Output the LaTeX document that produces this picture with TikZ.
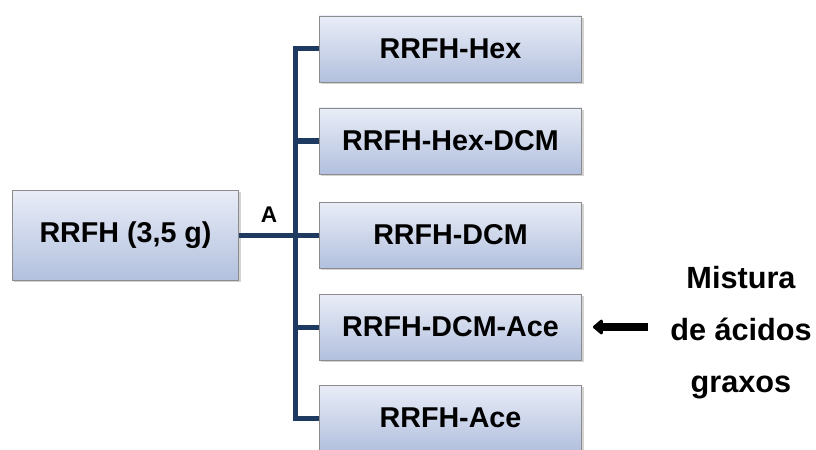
\documentclass[tikz,border=0pt]{standalone}
\usepackage{fontspec}
\setmainfont{Liberation Sans}
\usetikzlibrary{arrows.meta,shadows}

\definecolor{boxtop}{HTML}{E9EDF7}
\definecolor{boxbottom}{HTML}{B2C0DE}
\definecolor{boxline}{HTML}{8C8C8C}
\definecolor{linkblue}{HTML}{1F3A60}

\tikzset{
    box/.style={draw=boxline, line width=0.6pt, top color=boxtop, bottom color=boxbottom,
        minimum height=49.5pt, font=\fontsize{21.5}{24}\selectfont\bfseries,
        drop shadow={shadow xshift=1.5pt, shadow yshift=-1.5pt, opacity=0.35}},
    link/.style={color=linkblue, line width=3.75pt},
}

\begin{document}
\begin{tikzpicture}[x=0.75pt, y=-0.75pt]
            \useasboundingbox (0,0) rectangle (816,449);

            \node[box, minimum width=170pt, minimum height=67.5pt] (root) at (125.5,235) {RRFH (3,5 g)};

            \node[box, minimum width=197pt] (hex)    at (450.5,49)  {RRFH-Hex};
            \node[box, minimum width=197pt] (hexdcm) at (450.5,141) {RRFH-Hex-DCM};
            \node[box, minimum width=197pt] (dcm)    at (450.5,235) {RRFH-DCM};
            \node[box, minimum width=197pt] (dcmace) at (450.5,327) {RRFH-DCM-Ace};
            \node[box, minimum width=197pt] (ace)    at (450.5,418) {RRFH-Ace};

            \draw[link] (root.east) -- (dcm.west);
            \draw[link] (hex.west) -- ++(-23,0) |- (ace.west);
            \draw[link] (hexdcm.west) -- ++(-23,0);
            \draw[link] (dcmace.west) -- ++(-23,0);

            \node[font=\fontsize{17}{20}\selectfont\bfseries] (lblA) at (269,215) {A};

            \node[align=center, font=\fontsize{23}{39}\selectfont\bfseries] (mix) at (741,333)
                {Mistura\\de ácidos\\graxos};
            \draw[line width=6pt, -{Triangle[length=8pt, width=13pt, round]}, shorten <=13pt, shorten >=8pt]
                (mix.west |- dcmace.east) -- (dcmace.east);
        \end{tikzpicture}
\end{document}
